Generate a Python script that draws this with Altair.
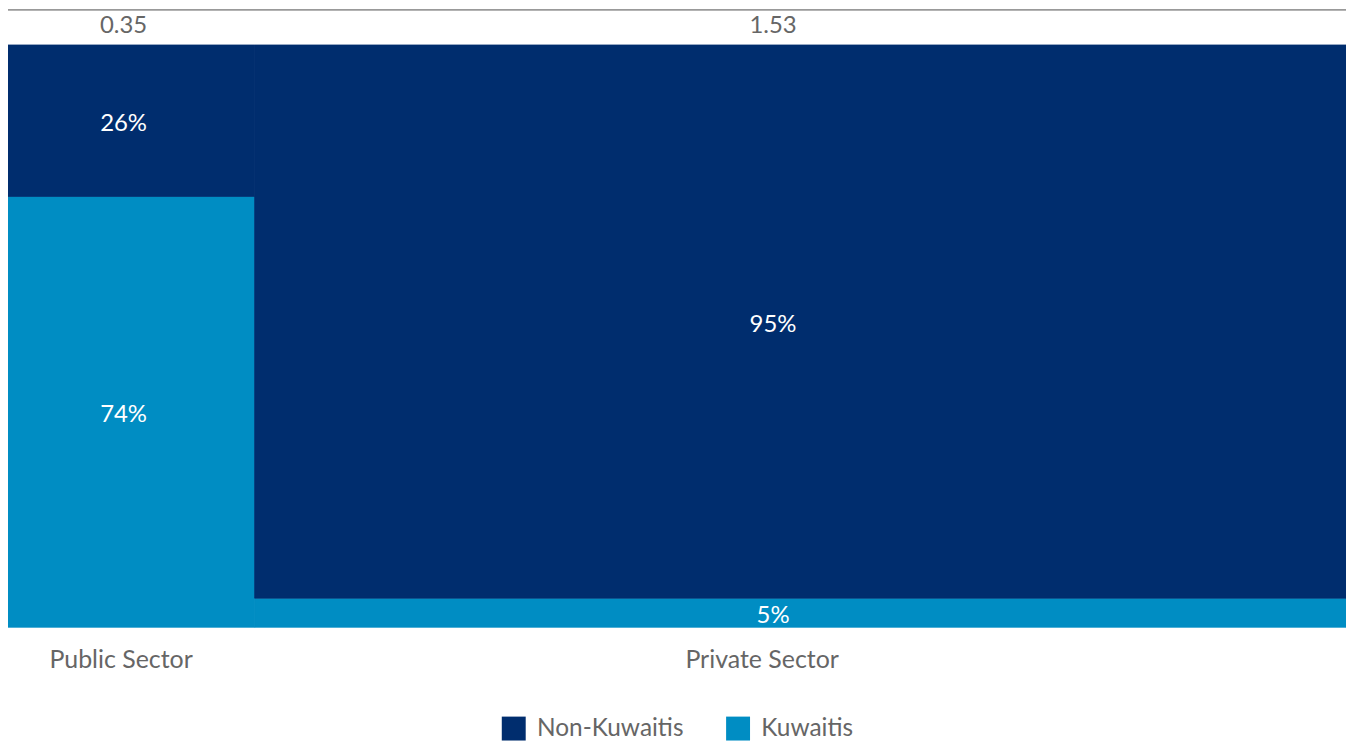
import altair as alt
import pandas as pd

sectors = ["Public Sector", "Private Sector"]
sector_size = [0.35, 1.53]
kuwaiti_share = [74, 5]
non_kuwaiti_share = [26, 95]

colors = {"Non-Kuwaitis": "#002D6E", "Kuwaitis": "#008DC3"}

rows = []
x0 = 0.0
for i, s in enumerate(sectors):
    w = sector_size[i]
    y0 = 0.0
    for g, sh in (("Kuwaitis", kuwaiti_share[i]), ("Non-Kuwaitis", non_kuwaiti_share[i])):
        rows.append(dict(sector=s, group=g, share=sh, size=w,
                         x0=x0, x1=x0 + w, y0=y0, y1=y0 + sh / 100.0,
                         label=f"{sh}%"))
        y0 += sh / 100.0
    x0 += w
df = pd.DataFrame(rows)
total = sum(sector_size)

W, H = 1342, 735
PX = 584.0  # pixels per 100%
xmin = 3 * total / 1345
ytop = 1 + 36 / PX
ybot = -(H - 620) / PX

xs = alt.Scale(domain=[xmin, total], nice=False, zero=False)
ys = alt.Scale(domain=[ybot, ytop], nice=False, zero=False)

FONT = "Lato"
GREY = "#666666"

cscale = alt.Scale(domain=["Non-Kuwaitis", "Kuwaitis"],
                   range=[colors["Non-Kuwaitis"], colors["Kuwaitis"]])

base = alt.Chart(df)

bars = base.mark_rect(strokeWidth=0.8).encode(
    x=alt.X("x0:Q", scale=xs, axis=None),
    x2="x1:Q",
    y=alt.Y("y0:Q", scale=ys, axis=None),
    y2="y1:Q",
    stroke=alt.Stroke("group:N", scale=cscale, legend=None),
    color=alt.Color("group:N", scale=cscale,
                    legend=alt.Legend(title=None, orient="none", direction="horizontal",
                                      legendX=495, legendY=709, padding=0,
                                      symbolType="square", symbolSize=576,
                                      symbolStrokeWidth=0,
                                      labelFont=FONT, labelFontSize=24.5,
                                      labelColor=GREY, columnPadding=42,
                                      labelOffset=11)),
)

vlabels = base.transform_calculate(
    lx="datum.x0 + (datum.x1 - datum.x0) * 0.475",
    ly="(datum.y0 + datum.y1) / 2",
).mark_text(font=FONT, fontSize=24, color="white", baseline="middle", dy=3).encode(
    x=alt.X("lx:Q", scale=xs), y=alt.Y("ly:Q", scale=ys), text="label:N"
)

top = df[df.group == "Kuwaitis"].copy()
top["sizelabel"] = top["size"].map(lambda v: f"{v:.2f}")
top["ty"] = 1 + 19 / PX
top["by"] = -33 / PX

tlabels = alt.Chart(top).transform_calculate(
    lx="datum.x0 + (datum.x1 - datum.x0) * 0.475"
).mark_text(font=FONT, fontSize=24, color=GREY, baseline="middle").encode(
    x=alt.X("lx:Q", scale=xs), y=alt.Y("ty:Q", scale=ys), text="sizelabel:N"
)

slabels = alt.Chart(top).transform_calculate(
    lx="datum.x0 + (datum.x1 - datum.x0) * 0.465"
).mark_text(font=FONT, fontSize=25, color=GREY, baseline="middle").encode(
    x=alt.X("lx:Q", scale=xs), y=alt.Y("by:Q", scale=ys), text="sector:N"
)

topline = alt.Chart(top).mark_rule(color="#999999", strokeWidth=1.5).encode(
    x=alt.value(0), x2=alt.value(W), y=alt.value(0.75)
)

chart = alt.layer(bars, vlabels, tlabels, slabels, topline).properties(
    width=W, height=H,
    padding=0,
    autosize=alt.AutoSizeParams(type="none"),
).configure_view(stroke=None)

chart.save("out.html", embed_options={"renderer": "svg", "actions": False})
